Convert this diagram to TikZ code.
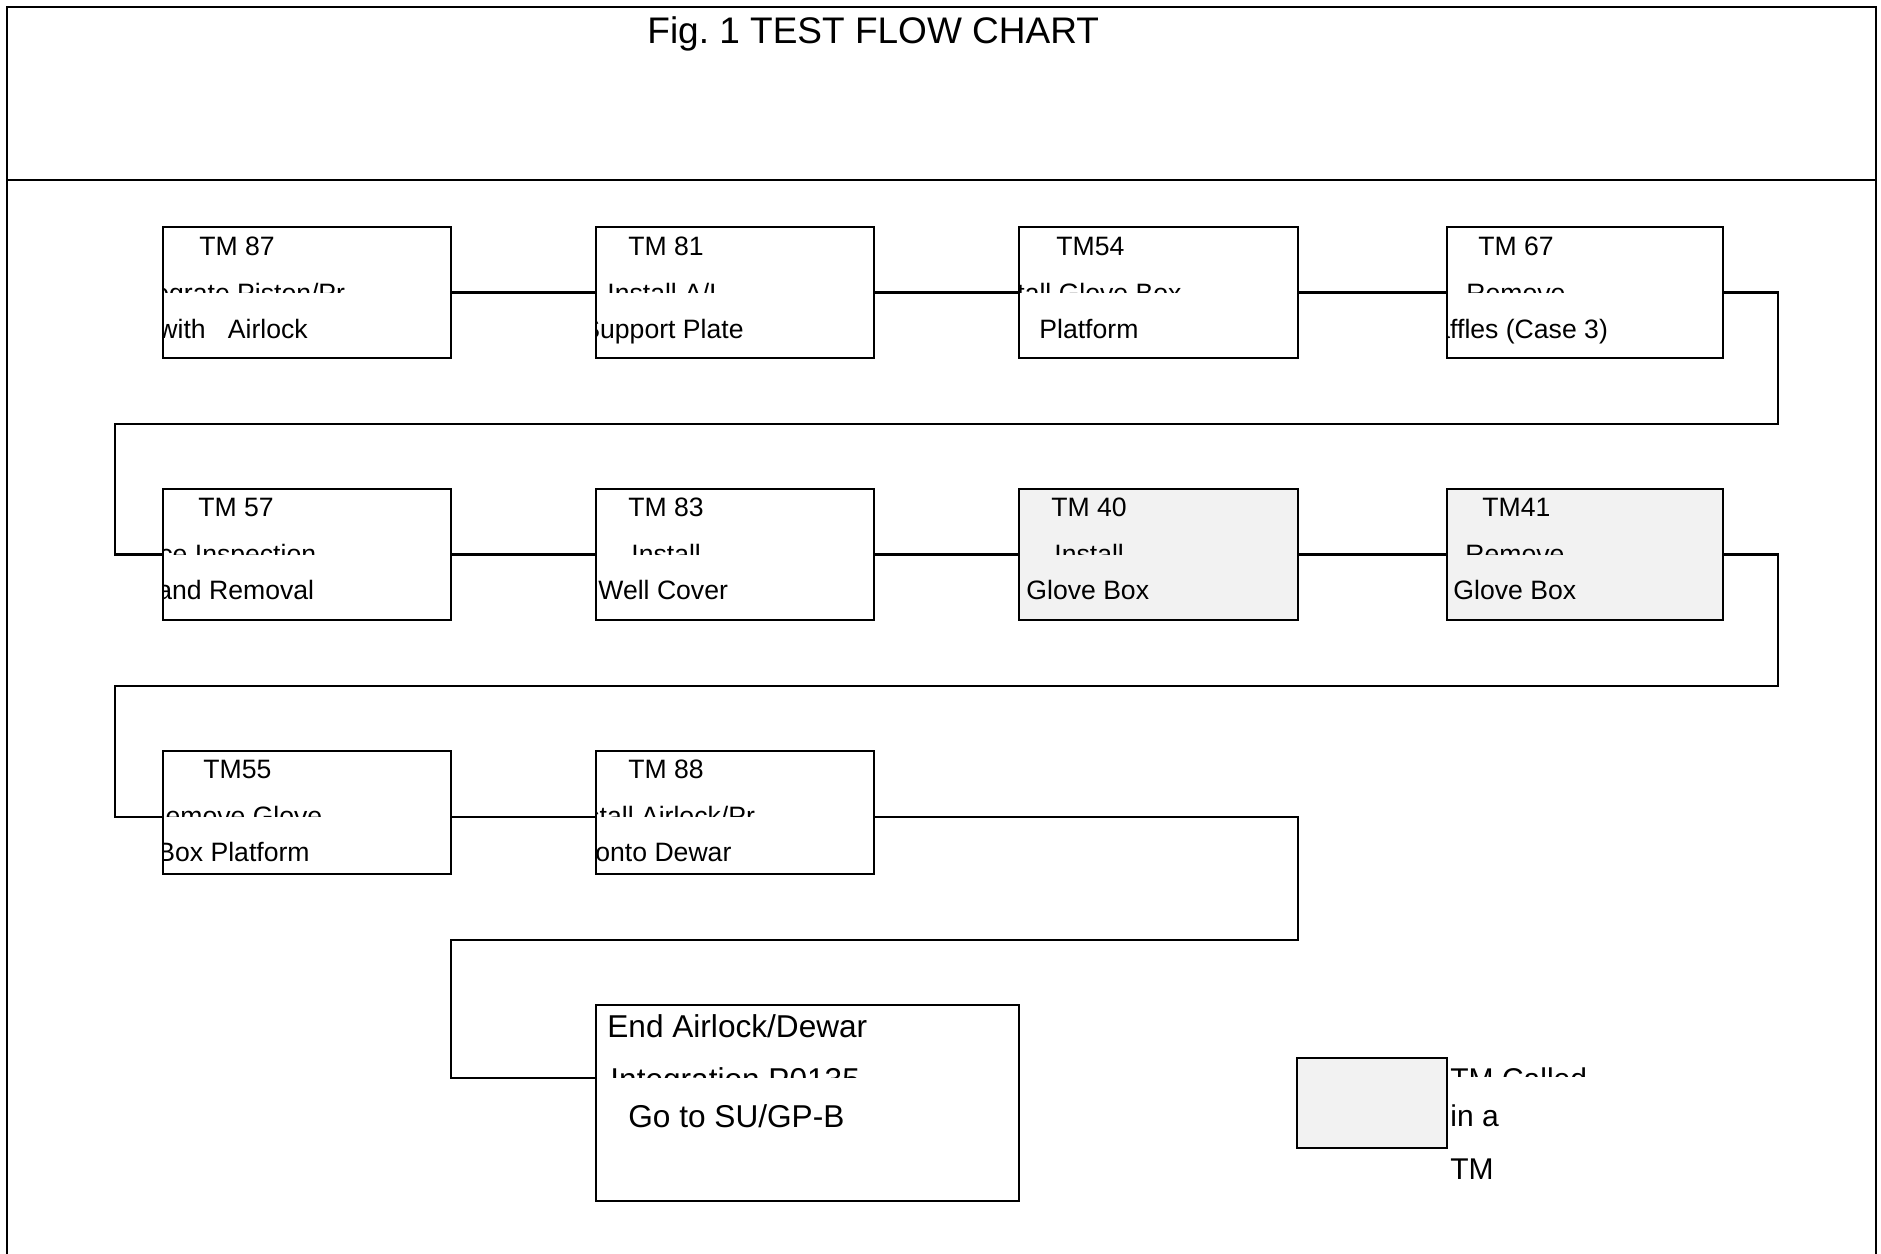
\documentclass[tikz,border=0pt]{standalone}
\usepackage{fontspec}
\setmainfont{Liberation Sans}
\usetikzlibrary{fit}
\definecolor{boxgray}{HTML}{F2F2F2}
\tikzset{
  tmbox/.style={draw, line width=1.1pt, inner sep=0pt, outer sep=0pt, fill=white},
  graybox/.style={tmbox, fill=boxgray},
  lbl/.style={anchor=base west, inner sep=0pt, font=\fontsize{13.3}{16}\selectfont},
  endlbl/.style={lbl, font=\fontsize{15.8}{19}\selectfont},
  leglbl/.style={lbl, font=\fontsize{15}{18}\selectfont},
  titlelbl/.style={lbl, font=\fontsize{18.5}{22}\selectfont},
  conn/.style={line width=1.1pt},
  frameline/.style={line width=1.1pt}
}
\newcommand\boxlines[8]{%
  \begin{scope}
    \clip (#1.south west) rectangle (#1.north east);
    \node[lbl] (#1a) at (#3,#2) {#4};
    \begin{scope}
      \clip (#1.north west) rectangle ([yshift=-32.5pt]#1.north east);
      \node[lbl] (#1b) at (#5,#2+47) {#6};
    \end{scope}
    \node[lbl] (#1c) at (#7,#2+83) {#8};
  \end{scope}}
\begin{document}
\begin{tikzpicture}[x=0.5pt,y=-0.5pt]
\useasboundingbox (0,0) rectangle (1881,1254);
\fill[white] (0,0) rectangle (1881,1254);
% frame
\draw[frameline] (7,1262) -- (7,7) -- (1876,7) -- (1876,1262);
\draw[frameline] (7,180) -- (1876,180);
\node[titlelbl] (title) at (647,43) {Fig.\ 1 TEST FLOW CHART};

% boxes
\node[tmbox, fit={(163,227)(451,358)}] (b1) {};
\node[tmbox, fit={(596,227)(874,358)}] (b2) {};
\node[tmbox, fit={(1019,227)(1298,358)}] (b3) {};
\node[tmbox, fit={(1447,227)(1723,358)}] (b4) {};
\node[tmbox, fit={(163,489)(451,620)}] (b5) {};
\node[tmbox, fit={(596,489)(874,620)}] (b6) {};
\node[graybox, fit={(1019,489)(1298,620)}] (b7) {};
\node[graybox, fit={(1447,489)(1723,620)}] (b8) {};
\node[tmbox, fit={(163,751)(451,874)}] (b9) {};
\node[tmbox, fit={(596,751)(874,874)}] (b10) {};
\node[tmbox, fit={(596,1005)(1019,1201)}] (e1) {};
\node[graybox, fit={(1297,1058)(1447,1148)}] (leg) {};

% texts
\boxlines{b1}{255}{199}{TM 87}{154}{egrate Piston/Pr}{158}{with~~~Airlock}
\boxlines{b2}{255}{628}{TM 81}{607}{Install A/L}{582}{Support Plate}
\boxlines{b3}{255}{1056}{TM54}{1017}{tall Glove Box}{1039}{Platform}
\boxlines{b4}{255}{1478}{TM 67}{1466}{Remove}{1435}{affles (Case 3)}
\boxlines{b5}{516}{198}{TM 57}{159}{ce Inspection}{157}{and Removal}
\boxlines{b6}{516}{628}{TM 83}{631}{Install}{598}{Well Cover}
\boxlines{b7}{516}{1051}{TM 40}{1054}{Install}{1026}{Glove Box}
\boxlines{b8}{516}{1482}{TM41}{1465}{Remove}{1453}{Glove Box}
\boxlines{b9}{778}{203}{TM55}{146}{Remove Glove}{157}{Box Platform}
\boxlines{b10}{778}{628}{TM 88}{586}{stall Airlock/Pr}{595}{onto Dewar}

\node[endlbl] (e1a) at (607,1037) {End Airlock/Dewar};
\begin{scope}
  \clip (e1.north west) rectangle (1019,1077);
  \node[endlbl] (e1b) at (610,1090) {Integration P0135};
\end{scope}
\node[endlbl] (e1c) at (628,1127) {Go to SU/GP-B};

\begin{scope}
  \clip (1440,1050) rectangle (1700,1076);
  \node[leglbl] (lega) at (1450,1089) {TM Called};
\end{scope}
\node[leglbl] (legb) at (1450,1126) {in a};
\node[leglbl] (legc) at (1450,1179) {TM};

% connectors
\coordinate (k1) at (1778,424);
\coordinate (k2) at (115,424);
\coordinate (k3) at (1778,686);
\coordinate (k4) at (115,686);
\coordinate (y3) at (0,817);
\coordinate (k5) at (1298,940);
\coordinate (k6) at (451,940);
\coordinate (y4) at (0,1078);

\draw[conn] (b1.east) -- (b2.west);
\draw[conn] (b2.east) -- (b3.west);
\draw[conn] (b3.east) -- (b4.west);
\draw[conn] (b4.east) -| (k1) -- (k2) |- (b5.west);
\draw[conn] (b5.east) -- (b6.west);
\draw[conn] (b6.east) -- (b7.west);
\draw[conn] (b7.east) -- (b8.west);
\draw[conn] (b8.east) -| (k3) -- (k4) |- (b9.west |- y3);
\draw[conn] (b9.east |- y3) -- (b10.west |- y3);
\draw[conn] (b10.east |- y3) -| (k5) -- (k6) |- (e1.west |- y4);
\end{tikzpicture}
\end{document}
